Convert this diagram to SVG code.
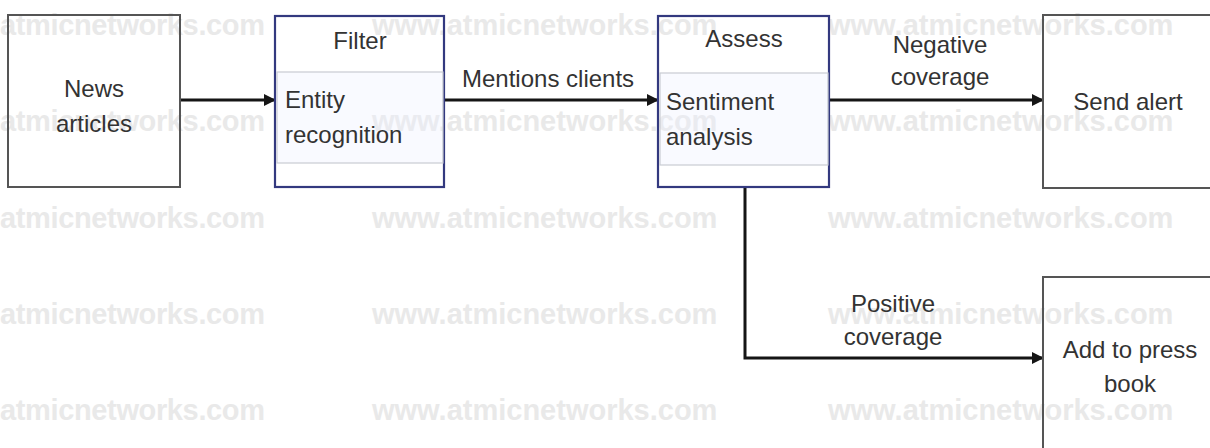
<svg xmlns="http://www.w3.org/2000/svg" width="1210" height="448" viewBox="0 0 1210 448">
<style>
.bg{fill:#ffffff}
.wm{font-family:"Liberation Sans",Arial,sans-serif;font-weight:bold;font-size:29px;fill:#e9e9e9}
.box{fill:none;stroke:#555555;stroke-width:2}
.obox{fill:none;stroke:#33397f;stroke-width:2.2}
.inner{fill:#eef2ff;fill-opacity:0.35;stroke:#c8cbd2;stroke-width:1.2}
.t{font-family:"Liberation Sans",Arial,sans-serif;font-size:24px;fill:#333333}
.c{text-anchor:middle}
.edge{fill:none;stroke:#151515;stroke-width:3}
</style>
<defs>
<marker id="ah" viewBox="0 0 12 12" refX="11" refY="6" markerWidth="12" markerHeight="12" markerUnits="userSpaceOnUse" orient="auto">
<path d="M0,0 L12,6 L0,12 Z" fill="#151515"/>
</marker>
</defs>
<rect class="bg" x="0" y="0" width="1210" height="448"/>
<g id="watermarks">
<text class="wm" x="0" y="35" textLength="265">atmicnetworks.com</text>
<text class="wm" x="372" y="35">www.atmicnetworks.com</text>
<text class="wm" x="828" y="35">www.atmicnetworks.com</text>
<text class="wm" x="0" y="131" textLength="265">atmicnetworks.com</text>
<text class="wm" x="372" y="131">www.atmicnetworks.com</text>
<text class="wm" x="828" y="131">www.atmicnetworks.com</text>
<text class="wm" x="0" y="228" textLength="265">atmicnetworks.com</text>
<text class="wm" x="372" y="228">www.atmicnetworks.com</text>
<text class="wm" x="828" y="228">www.atmicnetworks.com</text>
<text class="wm" x="0" y="324" textLength="265">atmicnetworks.com</text>
<text class="wm" x="372" y="324">www.atmicnetworks.com</text>
<text class="wm" x="828" y="324">www.atmicnetworks.com</text>
<text class="wm" x="0" y="420" textLength="265">atmicnetworks.com</text>
<text class="wm" x="372" y="420">www.atmicnetworks.com</text>
<text class="wm" x="828" y="420">www.atmicnetworks.com</text>
</g>
<g id="connectors">
<line class="edge" x1="180" y1="100" x2="275" y2="100" marker-end="url(#ah)"/>
<line class="edge" x1="444" y1="100" x2="658" y2="100" marker-end="url(#ah)"/>
<line class="edge" x1="829" y1="100" x2="1043" y2="100" marker-end="url(#ah)"/>
<path class="edge" d="M745,187 L745,358 L1043,358" marker-end="url(#ah)"/>
<text class="t" x="462" y="87">Mentions clients</text>
<text class="t c" x="940" y="53">Negative</text>
<text class="t c" x="940" y="85">coverage</text>
<text class="t c" x="893" y="312">Positive</text>
<text class="t c" x="893" y="345">coverage</text>
</g>
<g id="news">
<rect class="box" x="8" y="15" width="172" height="172"/>
<text class="t c" x="94" y="97">News</text>
<text class="t c" x="94" y="132">articles</text>
</g>
<g id="filter">
<rect class="obox" x="275" y="16" width="169" height="171"/>
<rect class="inner" x="277" y="72" width="166" height="91"/>
<text class="t c" x="360" y="49">Filter</text>
<text class="t" x="285" y="108">Entity</text>
<text class="t" x="285" y="143">recognition</text>
</g>
<g id="assess">
<rect class="obox" x="658" y="16" width="171" height="171"/>
<rect class="inner" x="660" y="73" width="168" height="92"/>
<text class="t c" x="744" y="47">Assess</text>
<text class="t" x="666" y="110">Sentiment</text>
<text class="t" x="666" y="145">analysis</text>
</g>
<g id="alert">
<rect class="box" x="1043" y="15" width="172" height="173"/>
<text class="t c" x="1128" y="110">Send alert</text>
</g>
<g id="pressbook">
<rect class="box" x="1043" y="277" width="172" height="180"/>
<text class="t c" x="1130" y="358">Add to press</text>
<text class="t c" x="1130" y="392">book</text>
</g>
</svg>
